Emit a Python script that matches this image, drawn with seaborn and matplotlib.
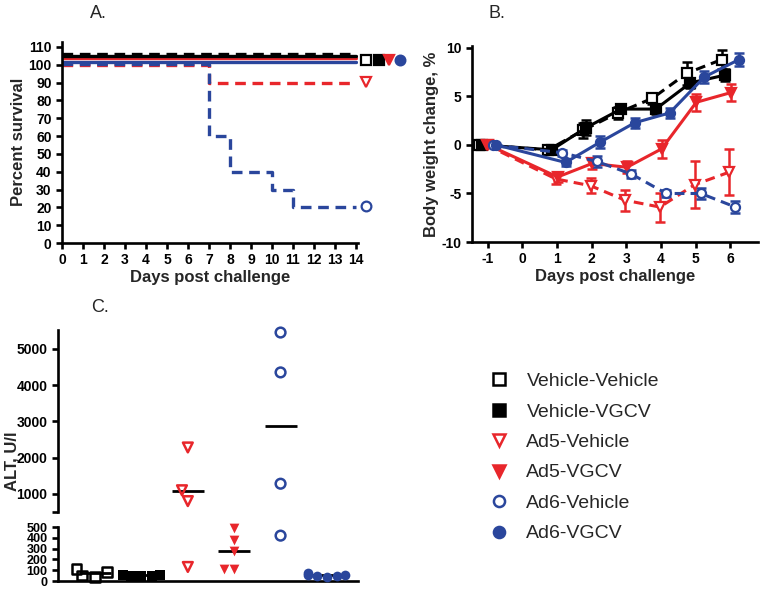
import numpy as np
import pandas as pd
import matplotlib
matplotlib.use("Agg")
import matplotlib.pyplot as plt
from matplotlib.lines import Line2D
import seaborn as sns

# groups and colours
groups = ["Vehicle-Vehicle", "Vehicle-VGCV", "Ad5-Vehicle", "Ad5-VGCV", "Ad6-Vehicle", "Ad6-VGCV"]
colors = ["black", "black", "#e8262b", "#e8262b", "#2a469c", "#2a469c"]
markers = ["s", "s", "v", "v", "o", "o"]
filled = [False, True, False, True, False, True]
dashed = [True, False, True, False, True, False]

# A. survival (percent)
surv_days = {
    "Vehicle-Vehicle": [0, 14],
    "Vehicle-VGCV": [0, 14],
    "Ad5-Vehicle": [0, 7, 14],
    "Ad5-VGCV": [0, 14],
    "Ad6-Vehicle": [0, 7, 8, 10, 11, 14],
    "Ad6-VGCV": [0, 14],
}
surv_pct = {
    "Vehicle-Vehicle": [100, 100],
    "Vehicle-VGCV": [100, 100],
    "Ad5-Vehicle": [100, 90, 90],
    "Ad5-VGCV": [100, 100],
    "Ad6-Vehicle": [100, 60, 40, 30, 20, 20],
    "Ad6-VGCV": [100, 100],
}

# B. body weight change (%), mean and error
bw_days = [-1, 1, 2, 3, 4, 5, 6]
bw_mean = {
    "Vehicle-Vehicle": [0, -0.5, 1.5, 3.3, 4.8, 7.4, 8.8],
    "Vehicle-VGCV": [0, -0.5, 1.8, 3.7, 3.7, 6.4, 7.2],
    "Ad5-Vehicle": [0, -3.5, -4.2, -5.7, -6.4, -4.1, -2.8],
    "Ad5-VGCV": [0, -3.3, -1.9, -2.3, -0.4, 4.4, 5.4],
    "Ad6-Vehicle": [0, -0.8, -1.7, -3.0, -5.0, -5.0, -6.4],
    "Ad6-VGCV": [0, -1.8, 0.3, 2.3, 3.3, 7.0, 8.8],
}
bw_err = {
    "Vehicle-Vehicle": [0, 0.3, 0.8, 0.6, 0.6, 1.2, 1.0],
    "Vehicle-VGCV": [0, 0.3, 0.8, 0.4, 0.5, 0.5, 0.6],
    "Ad5-Vehicle": [0, 0.5, 0.8, 1.1, 1.5, 2.4, 2.4],
    "Ad5-VGCV": [0, 0.5, 0.6, 0.6, 0.9, 0.9, 0.9],
    "Ad6-Vehicle": [0, 0.3, 0.6, 0.4, 0.4, 0.6, 0.6],
    "Ad6-VGCV": [0, 0.4, 0.6, 0.5, 0.5, 0.6, 0.7],
}

# C. ALT, U/l
alt_values = {
    "Vehicle-Vehicle": [110, 40, 50, 80],
    "Vehicle-VGCV": [55, 45, 50, 60, 45],
    "Ad5-Vehicle": [2280, 1100, 800, 130],
    "Ad5-VGCV": [490, 380, 280, 110, 110],
    "Ad6-Vehicle": [5450, 4350, 1280, 420],
    "Ad6-VGCV": [70, 55, 45, 50, 40, 60],
}

# style only: display offsets
surv_dy = {"Vehicle-Vehicle": 6.2, "Vehicle-VGCV": 5.1, "Ad5-Vehicle": 0,
           "Ad5-VGCV": 3.6, "Ad6-Vehicle": 0.3, "Ad6-VGCV": 1.7}
end_dx = {"Vehicle-Vehicle": 0.5, "Vehicle-VGCV": 1.1, "Ad5-Vehicle": 0.5,
          "Ad5-VGCV": 1.6, "Ad6-Vehicle": 0.5, "Ad6-VGCV": 2.1}
end_dy = {"Vehicle-Vehicle": 2.5, "Vehicle-VGCV": 2.5, "Ad5-Vehicle": 0.5,
          "Ad5-VGCV": 2.5, "Ad6-Vehicle": 0.5, "Ad6-VGCV": 2.5}
bw_dodge = {"Vehicle-Vehicle": -0.25, "Vehicle-VGCV": -0.15, "Ad5-Vehicle": -0.03,
            "Ad5-VGCV": 0.02, "Ad6-Vehicle": 0.15, "Ad6-VGCV": 0.25}

sns.set_style("ticks")
plt.rcParams["font.family"] = ["Liberation Sans", "DejaVu Sans"]
plt.rcParams["axes.unicode_minus"] = False
plt.rcParams["axes.linewidth"] = 1.9
plt.rcParams["xtick.major.width"] = 1.9
plt.rcParams["ytick.major.width"] = 1.9
plt.rcParams["xtick.major.size"] = 4
plt.rcParams["ytick.major.size"] = 4
plt.rcParams["xtick.color"] = "black"
plt.rcParams["ytick.color"] = "black"
plt.rcParams["axes.edgecolor"] = "black"

fig = plt.figure(figsize=(7.74, 5.94), dpi=100)
W, H = 774, 594


def add_ax(x0, y0, x1, y1):
    return fig.add_axes([x0 / W, 1 - y1 / H, (x1 - x0) / W, (y1 - y0) / H])


def style_ticks(ax, size=10):
    for lab in ax.get_xticklabels() + ax.get_yticklabels():
        lab.set_fontweight("bold")
        lab.set_fontsize(size)
    sns.despine(ax=ax)


# ---------- A ----------
axA = add_ax(62, 41.6, 358, 243)
order_a = ["Ad5-Vehicle", "Ad6-VGCV", "Ad5-VGCV", "Vehicle-VGCV", "Vehicle-Vehicle", "Ad6-Vehicle"]
for g in order_a:
    i = groups.index(g)
    pct = np.array(surv_pct[g])
    d = pd.DataFrame({"day": surv_days[g], "pct": pct + surv_dy[g] * (pct == 100)})
    sns.lineplot(data=d, x="day", y="pct", ax=axA, color=colors[i], lw=2.4,
                 drawstyle="steps-post", linestyle=(0, (3.2, 2.0)) if dashed[i] else "-")
for i, g in enumerate(groups):
    axA.plot(surv_days[g][-1] + end_dx[g], surv_pct[g][-1] + end_dy[g], marker=markers[i],
             ms=7, mew=1.6, color=colors[i], mfc=colors[i] if filled[i] else "white",
             clip_on=False, zorder=5)
axA.set_xlim(0, 14.1)
axA.set_ylim(0, 113)
axA.set_xticks(range(0, 15))
axA.set_yticks(range(0, 111, 10))
axA.set_xlabel("Days post challenge", fontsize=12, fontweight="bold", labelpad=2)
axA.set_ylabel("Percent survival", fontsize=12, fontweight="bold", labelpad=2)
style_ticks(axA)
fig.text(98 / W, 1 - 13 / H, "A.", fontsize=13, ha="center", va="center")

# ---------- B ----------
axB = add_ax(472, 46, 758, 242)
for i, g in enumerate(groups):
    x = np.array(bw_days) + bw_dodge[g]
    d = pd.DataFrame({"day": x, "bw": bw_mean[g]})
    sns.lineplot(data=d, x="day", y="bw", ax=axB, color=colors[i], lw=2.2,
                 linestyle=(0, (3.2, 2.0)) if dashed[i] else "-",
                 marker=markers[i], ms=6.5, mew=1.6, mec=colors[i],
                 mfc=colors[i] if filled[i] else "white", zorder=3)
    axB.errorbar(x, bw_mean[g], yerr=bw_err[g], fmt="none", ecolor=colors[i],
                 elinewidth=1.8, capsize=3.5, capthick=1.8, zorder=2)
axB.set_xlim(-1.45, 6.8)
axB.set_ylim(-10, 10.2)
axB.set_xticks(range(-1, 7))
axB.set_yticks([-10, -5, 0, 5, 10])
axB.set_xlabel("Days post challenge", fontsize=12, fontweight="bold", labelpad=2)
axB.set_ylabel("Body weight change, %", fontsize=12, fontweight="bold", labelpad=2)
style_ticks(axB)
fig.text(497 / W, 1 - 13 / H, "B.", fontsize=13, ha="center", va="center")

# ---------- C (broken y axis) ----------
rows = [(g, v) for g in groups for v in alt_values[g]]
dfc = pd.DataFrame(rows, columns=["group", "alt"])

axCt = add_ax(58, 330, 358, 512)
axCb = add_ax(58, 527, 358, 581)
for ax, lo, hi in [(axCt, 500, 5520), (axCb, 0, 500)]:
    part = dfc[(dfc.alt >= lo) & (dfc.alt < hi)]
    for i, g in enumerate(groups):
        sub = part[part.group == g]
        if sub.empty:
            continue
        n0 = len(ax.collections)
        sns.swarmplot(data=sub, x="group", y="alt", order=groups, ax=ax,
                      marker=markers[i], size=7, color=colors[i])
        for coll in ax.collections[n0:]:
            if len(coll.get_offsets()) == 0:
                continue
            coll.set_clip_on(False)
            if not filled[i]:
                coll.set_facecolor("none")
                coll.set_edgecolor(colors[i])
                coll.set_linewidth(1.8)
    sns.pointplot(data=dfc, x="group", y="alt", order=groups, ax=ax, estimator="mean",
                  errorbar=None, color="black", linestyle="none", marker="_",
                  markersize=23, markeredgewidth=2)
    ax.set_ylim(lo, hi)
    ax.set_xlim(-0.8, 5.67)
    ax.set_xlabel("")
    ax.set_ylabel("")
    ax.tick_params(axis="x", length=0, labelbottom=False)

axCt.set_yticks([500, 1000, 2000, 3000, 4000, 5000])
axCt.set_yticklabels(["", "1000", "2000", "3000", "4000", "5000"])
axCb.set_yticks(range(0, 501, 100))
style_ticks(axCt)
style_ticks(axCb, size=9)
axCt.spines["bottom"].set_visible(False)
fig.text(12 / W, 1 - 461 / H, "ALT, U/l", rotation=90, fontsize=12, fontweight="bold",
         ha="center", va="center")
fig.text(100 / W, 1 - 308 / H, "C.", fontsize=13, ha="center", va="center")

# ---------- legend ----------
handles = [Line2D([], [], linestyle="none", marker=markers[i], color=colors[i],
                  mfc=colors[i] if filled[i] else "white", mew=1.8, ms=8)
           for i in range(len(groups))]
fig.legend(handles, groups, loc="upper left", bbox_to_anchor=(472 / W, 1 - 355 / H),
           frameon=False, fontsize=14, handletextpad=0.9, labelspacing=0.66,
           handlelength=1.0)

fig.savefig("out.png", dpi=100)
